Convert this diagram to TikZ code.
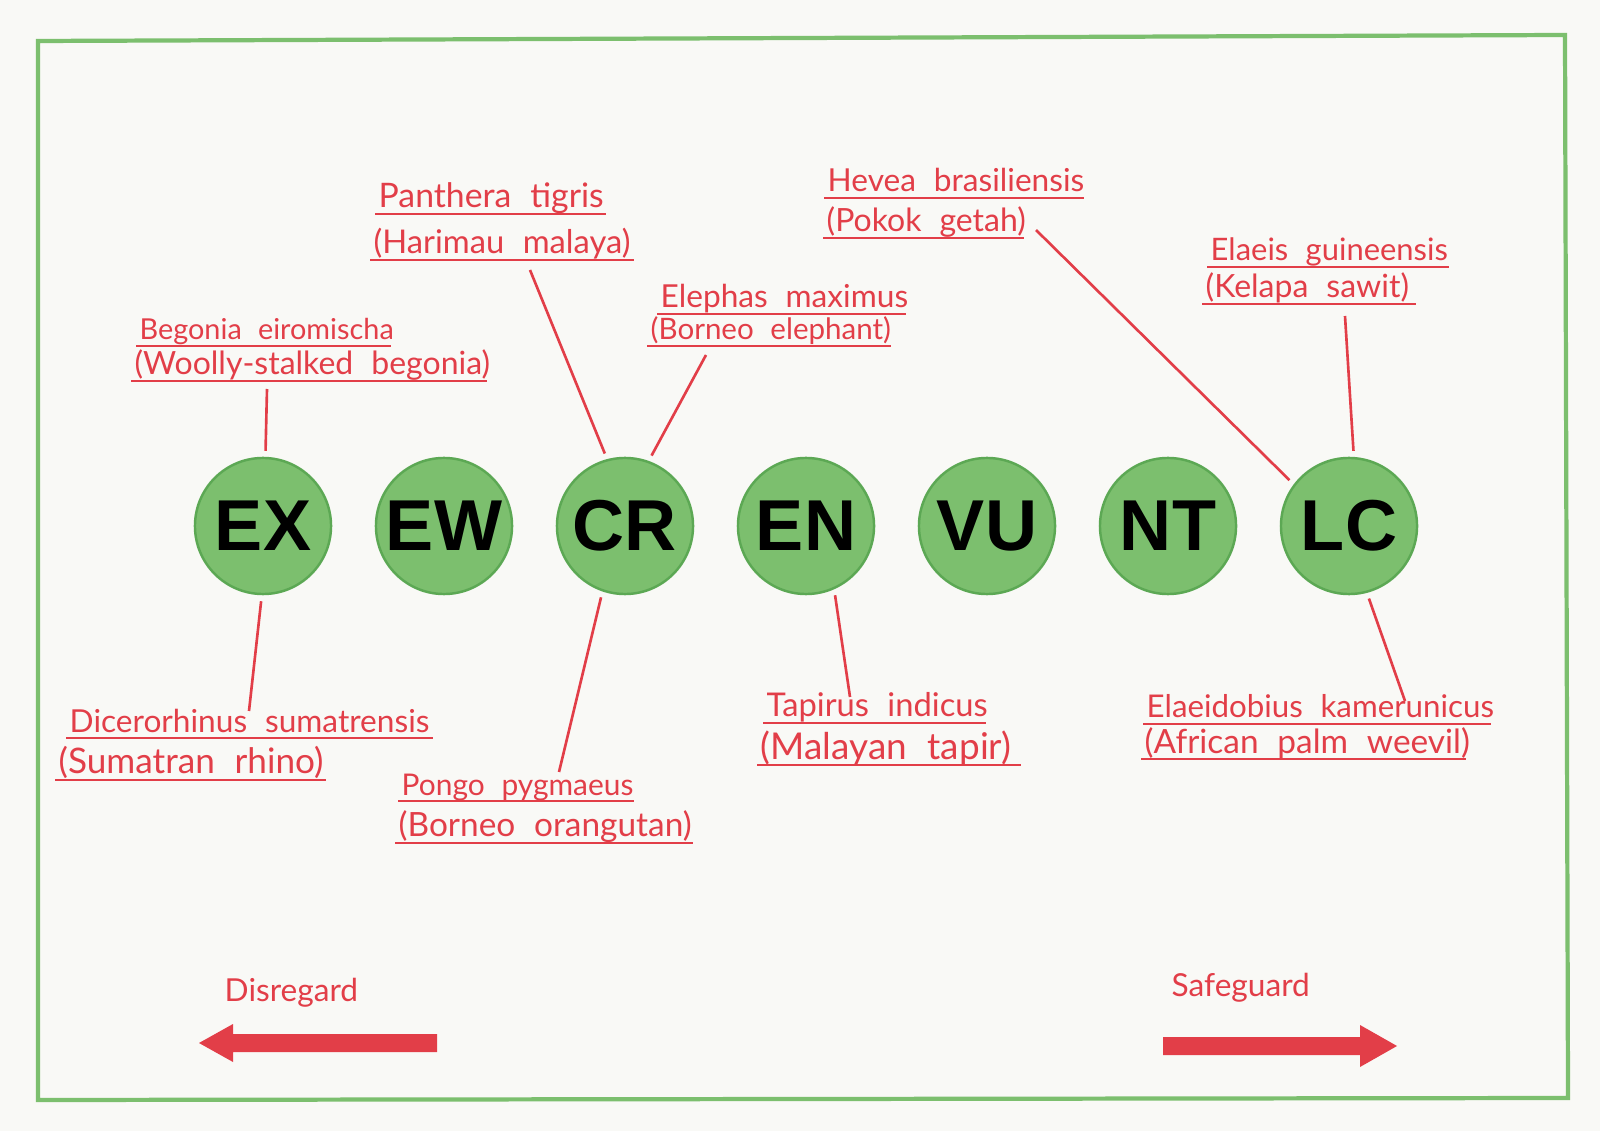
\documentclass[tikz,border=0pt]{standalone}
\usepackage{fontspec}
\newfontfamily\badgefont{Liberation Sans}
\newfontfamily\handfont[WordSpace=2.2]{Lato}

\definecolor{paper}{RGB}{249,249,246}
\definecolor{leaf}{RGB}{124,191,110}
\definecolor{leafdark}{RGB}{92,168,84}
\definecolor{pencil}{RGB}{226,62,72}

\tikzset{
  status/.style={circle, minimum size=1.36cm, inner sep=0pt, fill=leaf,
    draw=leafdark, line width=0.7pt,
    font=\badgefont\bfseries\fontsize{20.5}{24}\selectfont},
  entry/.style={anchor=base west, inner sep=0pt, text depth=0.05cm,
    text=pencil, font=\handfont\fontsize{#1}{10}\selectfont},
  entry/.default=8.8,
  uline/.style={draw=pencil, line width=0.6pt},
  stem/.style={draw=pencil, line width=0.75pt, shorten <=0.06cm},
}

\begin{document}
\begin{tikzpicture}[x=0.01cm, y=-0.01cm]
    % paper and frame
    \fill [paper] (0,0) rectangle (1600,1131);
    \draw [leaf, line width=1.2pt] (38,41) -- (1565,35) -- (1568,1098) -- (38,1100) -- cycle;

    % the seven categories
    \foreach \st [count=\i from 0] in {EX,EW,CR,EN,VU,NT,LC}
    \node [status] (\st) at ({263+181*\i},526) {\st};

    % species names
    \node [entry=8.2] (begonia) at (139,340) {Begonia eiromischa};
    \node [entry=9.1] (woolly) at (134,375) {(Woolly-stalked begonia)};
    \node [entry=9.6] (tigris) at (378,208) {Panthera tigris};
    \node [entry=9.3] (harimau) at (373,254) {(Harimau malaya)};
    \node [entry=9] (elephas) at (660,308) {Elephas maximus};
    \node [entry=8.4] (elephant) at (650,340) {(Borneo elephant)};
    \node [entry=9] (hevea) at (827,192) {Hevea brasiliensis};
    \node [entry=9.1] (getah) at (826,232) {(Pokok getah)};
    \node [entry=8.8] (elaeis) at (1210,261) {Elaeis guineensis};
    \node [entry=9.1] (sawit) at (1205,298) {(Kelapa sawit)};
    \node [entry=9] (dicero) at (69,732) {Dicerorhinus sumatrensis};
    \node [entry=10] (rhino) at (58,774) {(Sumatran rhino)};
    \node [entry=8.5] (pongo) at (401,795) {Pongo pygmaeus};
    \node [entry=9.5] (orangutan) at (398,837) {(Borneo orangutan)};
    \node [entry=9.3] (tapirus) at (766,717) {Tapirus indicus};
    \node [entry=10.5] (tapir) at (760,759) {(Malayan tapir)};
    \node [entry=8.9] (elaeido) at (1146,718) {Elaeidobius kamerunicus};
    \node [entry=9.5] (weevil) at (1144,753) {(African palm weevil)};
    \foreach \n/\w in {begonia/255,woolly/356,tigris/231,harimau/264,elephas/249,
        elephant/244,hevea/260,getah/201,elaeis/242,sawit/214,dicero/367,rhino/271,
        pongo/236,orangutan/298,tapirus/223,tapir/264,elaeido/348,weevil/325}
    \draw [uline] (\n.south west) ++(-3,0) -- ++(\w,0);

    % stems from the circles to the names
    \coordinate (begonia-end) at (267,389);
    \coordinate (dicero-end) at (249,711);
    \coordinate (tigris-end) at (530,270);
    \coordinate (elephas-end) at (706,355);
    \coordinate (pongo-end) at (559,772);
    \coordinate (tapirus-end) at (850,697);
    \coordinate (hevea-end) at (1036,230);
    \coordinate (elaeis-end) at (1345,316);
    \coordinate (elaeido-end) at (1405,701);
    \draw [stem] (EX.88) -- (begonia-end);
    \draw [stem] (EX.-91) -- (dicero-end);
    \draw [stem] (CR.105) -- (tigris-end);
    \draw [stem] (CR.70) -- (elephas-end);
    \draw [stem] (CR.-109) -- (pongo-end);
    \draw [stem] (EN.-66) -- (tapirus-end);
    \draw [stem] (LC.143) -- (hevea-end);
    \draw [stem] (LC.86) -- (elaeis-end);
    \draw [stem] (LC.-75) -- (elaeido-end);

    % direction arrows
    \node [entry=9, text depth=0pt] (disregard) at (224,1001) {Disregard};
    \node [entry=9, text depth=0pt] (safeguard) at (1171,996) {Safeguard};
    \fill [pencil] (437,1034) -- (233,1034) -- (233,1024) -- (199,1043) -- (233,1062)
        -- (233,1052) -- (437,1052) -- cycle;
    \fill [pencil] (1163,1037) -- (1360,1037) -- (1360,1025) -- (1397,1046) -- (1360,1067)
        -- (1360,1055) -- (1163,1055) -- cycle;
\end{tikzpicture}
\end{document}
